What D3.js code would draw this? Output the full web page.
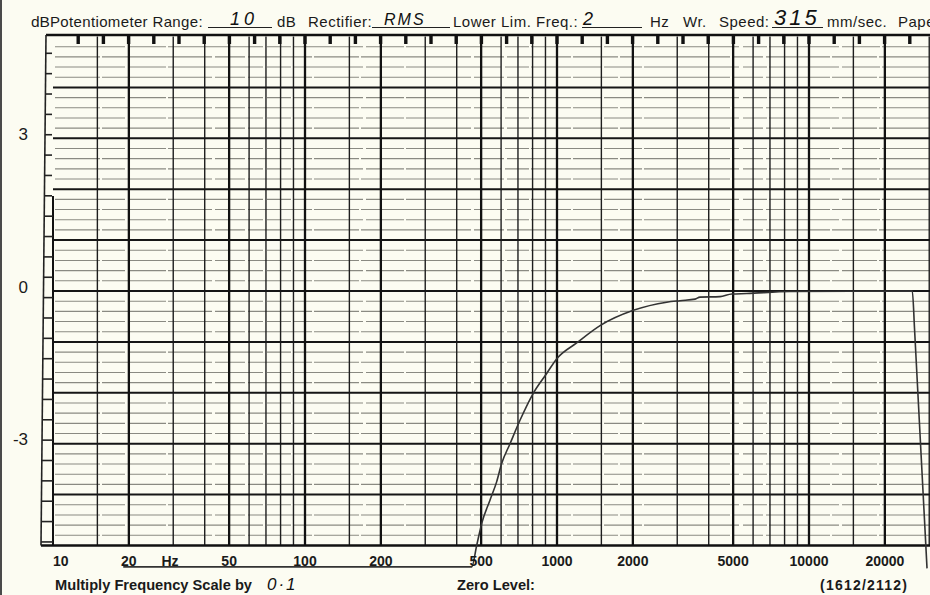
<!DOCTYPE html>
<html>
<head>
<meta charset="utf-8">
<script src="https://cdn.jsdelivr.net/npm/d3@7"></script>
<style>
  html, body { margin: 0; padding: 0; background: #fcfcf2; }
  svg { display: block; }
  text { font-family: "Liberation Sans", Arial, Helvetica, sans-serif; fill: #1a1a1a; }
  .hand { font-family: "Liberation Sans", Arial, sans-serif; font-style: italic; fill: #111; }
</style>
</head>
<body>
<svg id="chart" width="930" height="595"></svg>
<script>
// Recorded frequency-response trace: frequency (Hz) and level (dB)
const traceFreq = [19, 459, 480, 503, 542, 576, 603, 651, 713, 805, 910, 998, 1197, 1482, 2010, 2725, 3078, 3532, 3690, 4433, 4934, 5660, 8410, 25700, 26240, 29400];
const traceDb   = [-5.42, -5.42, -5.0, -4.56, -4.11, -3.75, -3.39, -3.0, -2.54, -2.01, -1.62, -1.33, -1.02, -0.68, -0.38, -0.22, -0.19, -0.16, -0.12, -0.11, -0.06, -0.05, -0.01, 0, -0.76, -5.45];

// Frequency axis labels printed under the paper
const freqLabels = [10, 20, 50, 100, 200, 500, 1000, 2000, 5000, 10000, 20000];
// Level labels on the left margin
const dbLabels = [3, 0, -3];

// Grid rulings of the log paper
const decades = [10, 100, 1000, 10000];
const gridMultipliers = [1, 1.5, 2, 3, 4, 5, 6, 7, 8, 9];
const majorMultipliers = [1, 2, 5];

// Header form fields: printed caption, hand-filled value
const headerCaptions = ["Potentiometer Range:", "dB", "Rectifier:", "Lower Lim. Freq.:", "Hz", "Wr.", "Speed:", "mm/sec.", "Paper Speed:"];
const headerCaptionX = [50, 277, 308, 453, 650, 683, 719, 827, 898];
const headerValues = ["10", "RMS", "2", "315"];
const headerValueX = [230, 384, 583, 774];
const headerBlanks = [[208, 272], [372, 450], [582, 642], [772, 823]];

const W = 930, H = 595;
const svg = d3.select("#chart");

const x = d3.scaleLog().domain([10, 100000]).range([53, 1061]);
const y = d3.scaleLinear().domain([-5, 5]).range([545.5, 36.5]);

const gridRight = W;
const grid = svg.append("g");

// 0.2 dB rulings (fine, grey) and 1 dB rulings (bold)
const levels = d3.range(-25, 26).map(i => ({ v: i / 5, major: i % 5 === 0 }));
grid.selectAll("line.hminor").data(levels.filter(d => !d.major)).join("line")
  .attr("class", "hminor")
  .attr("x1", 55).attr("x2", gridRight)
  .attr("y1", d => y(d.v)).attr("y2", d => y(d.v))
  .attr("stroke", "#8a8a82").attr("stroke-width", 1.1)
  .attr("stroke-dasharray", (d, i) => i % 2 ? "70,3,38,2,95,4,24,2" : "45,2,110,3,30,3,64,2");

// frequency rulings
const vlines = [];
decades.forEach(dec => gridMultipliers.forEach(m => {
  const f = dec * m;
  if (f > 10 && x(f) <= W + 1) vlines.push({ f, major: majorMultipliers.includes(m) });
}));
grid.selectAll("line.vminor").data(vlines.filter(d => !d.major)).join("line")
  .attr("class", "vminor")
  .attr("x1", d => x(d.f)).attr("x2", d => x(d.f))
  .attr("y1", y(5)).attr("y2", y(-5))
  .attr("stroke", "#1e1e1e").attr("stroke-width", 1.4);

grid.selectAll("line.hmajor").data(levels.filter(d => d.major && Math.abs(d.v) < 5)).join("line")
  .attr("class", "hmajor")
  .attr("x1", 53).attr("x2", gridRight)
  .attr("y1", d => y(d.v)).attr("y2", d => y(d.v))
  .attr("stroke", "#161616").attr("stroke-width", 2);

grid.selectAll("line.vmajor").data(vlines.filter(d => d.major)).join("line")
  .attr("class", "vmajor")
  .attr("x1", d => x(d.f)).attr("x2", d => x(d.f))
  .attr("y1", y(5)).attr("y2", y(-5))
  .attr("stroke", "#111").attr("stroke-width", 2.3);

// paper borders
grid.append("line").attr("x1", 46).attr("x2", gridRight).attr("y1", y(5) - 1.5).attr("y2", y(5) - 1.5)
  .attr("stroke", "#111").attr("stroke-width", 2.6);
grid.append("line").attr("x1", 41).attr("x2", gridRight).attr("y1", y(-5)).attr("y2", y(-5))
  .attr("stroke", "#111").attr("stroke-width", 2.4);
grid.append("line").attr("x1", x(10)).attr("x2", x(10)).attr("y1", 196).attr("y2", y(-5))
  .attr("stroke", "#111").attr("stroke-width", 2);

// 1/10-decade notches hanging from the top border
const notchSteps = d3.range(1, 36).map(k => Math.pow(10, 1 + k / 10)).filter(f => x(f) < W - 2);
grid.selectAll("rect.notch").data(notchSteps).join("rect")
  .attr("class", "notch")
  .attr("x", d => x(d) - 1.7).attr("width", 3.4)
  .attr("y", y(5) - 1.5).attr("height", 9)
  .attr("fill", "#111");

// left-hand pen scale strip
const stripTop = y(5) - 1.5, stripBottom = y(-5);
const outerX = yy => 46 - 5 * (yy - stripTop) / (stripBottom - stripTop);
grid.append("line")
  .attr("x1", outerX(stripTop)).attr("y1", stripTop)
  .attr("x2", outerX(stripBottom)).attr("y2", stripBottom)
  .attr("stroke", "#222").attr("stroke-width", 1.6);
const stripTicks = d3.range(0, 25).map(k => -4.93 + 0.4 * k);
grid.selectAll("line.strip").data(stripTicks).join("line")
  .attr("class", "strip")
  .attr("x1", d => outerX(y(d))).attr("x2", d => y(d) > 196 ? 53 : 52)
  .attr("y1", d => y(d)).attr("y2", d => y(d))
  .attr("stroke", "#222").attr("stroke-width", 1.6);

// scan edge on the far left
svg.append("line").attr("x1", 1).attr("x2", 1).attr("y1", 0).attr("y2", H)
  .attr("stroke", "#4a4a4a").attr("stroke-width", 2);

// the pen trace
const trace = traceFreq.map((f, i) => [x(f), y(traceDb[i])]);
svg.append("path")
  .attr("d", d3.line().curve(d3.curveMonotoneX)(trace))
  .attr("fill", "none")
  .attr("stroke", "#333")
  .attr("stroke-width", 1.6)
  .attr("stroke-linejoin", "round");

// level labels
svg.selectAll("text.db").data(dbLabels).join("text")
  .attr("class", "db")
  .attr("x", 28).attr("y", d => y(d) + 1.5)
  .attr("text-anchor", "end")
  .attr("font-size", 17)
  .text(d => d === 0 ? "0" : (d < 0 ? "-" + Math.abs(d) : String(d)));

// frequency labels
svg.selectAll("text.freq").data(freqLabels).join("text")
  .attr("class", "freq")
  .attr("x", d => x(d))
  .attr("y", 566)
  .attr("text-anchor", d => d === 10 ? "start" : "middle")
  .attr("font-size", 14).attr("font-weight", "bold")
  .text(d => d);
svg.append("text").attr("x", 170).attr("y", 566).attr("text-anchor", "middle")
  .attr("font-size", 14).attr("font-weight", "bold").text("Hz");

// header
svg.append("text").attr("x", 31).attr("y", 27).attr("font-size", 15.5).text("dB");
svg.selectAll("text.cap").data(headerCaptions).join("text")
  .attr("class", "cap")
  .attr("x", (d, i) => headerCaptionX[i]).attr("y", 27)
  .attr("font-size", 15).attr("letter-spacing", (d, i) => i === 0 ? 0.35 : 0.5)
  .text(d => d);
svg.selectAll("line.blank").data(headerBlanks).join("line")
  .attr("class", "blank")
  .attr("x1", d => d[0]).attr("x2", d => d[1]).attr("y1", 27.5).attr("y2", 27.5)
  .attr("stroke", "#222").attr("stroke-width", 1);
const handSize = [18, 16, 18, 22];
const handSpacing = [4, 2, 0, 3];
svg.selectAll("text.hand").data(headerValues).join("text")
  .attr("class", "hand")
  .attr("x", (d, i) => headerValueX[i]).attr("y", 25)
  .attr("font-size", (d, i) => handSize[i])
  .attr("letter-spacing", (d, i) => handSpacing[i])
  .text(d => d);

// footer
svg.append("text").attr("x", 55).attr("y", 590)
  .attr("font-size", 14.5).attr("font-weight", "bold")
  .attr("textLength", 197).attr("lengthAdjust", "spacingAndGlyphs")
  .text("Multiply Frequency Scale by");
svg.append("text").attr("class", "hand").attr("x", 267).attr("y", 590)
  .attr("font-size", 17).attr("letter-spacing", 2).text("0·1");
svg.append("text").attr("x", 457).attr("y", 590)
  .attr("font-size", 14).attr("font-weight", "bold")
  .attr("textLength", 78).attr("lengthAdjust", "spacingAndGlyphs")
  .text("Zero Level:");
svg.append("text").attr("x", 820).attr("y", 590)
  .attr("font-size", 14).attr("font-weight", "bold")
  .attr("textLength", 87).attr("lengthAdjust", "spacing")
  .text("(1612/2112)");
</script>
</body>
</html>
